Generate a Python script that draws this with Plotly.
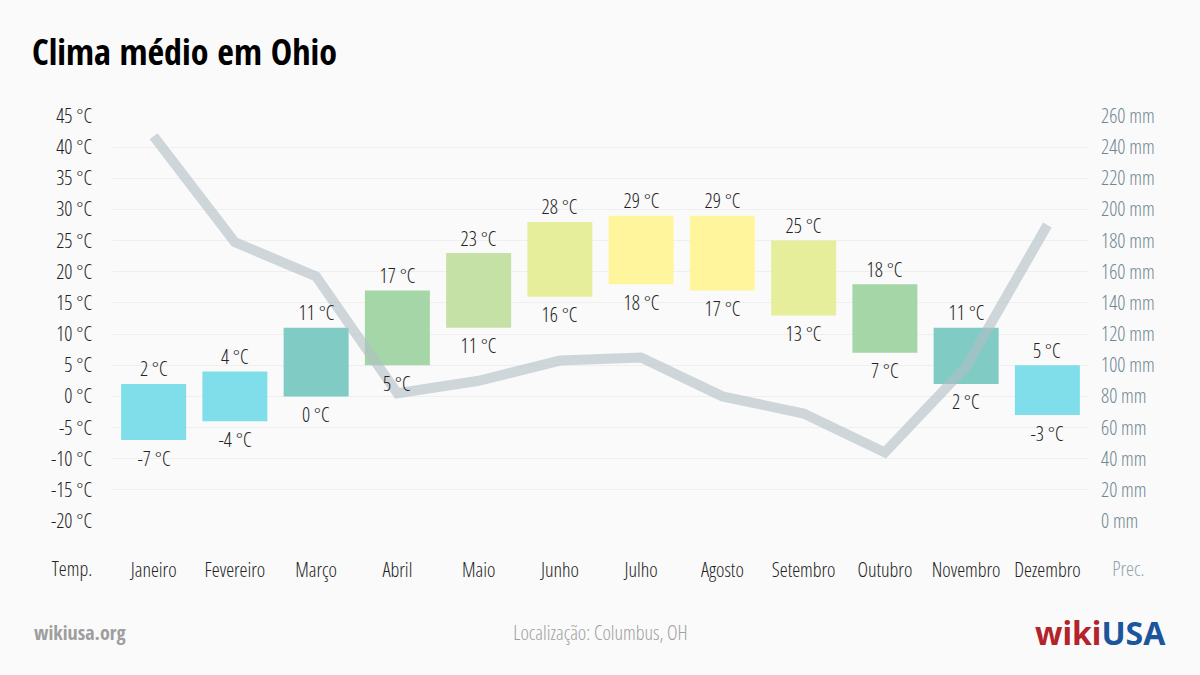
import plotly.graph_objects as go

months = ["Janeiro", "Fevereiro", "Março", "Abril", "Maio", "Junho", "Julho",
          "Agosto", "Setembro", "Outubro", "Novembro", "Dezembro"]
temp_high = [2, 4, 11, 17, 23, 28, 29, 29, 25, 18, 11, 5]
temp_low = [-7, -4, 0, 5, 11, 16, 18, 17, 13, 7, 2, -3]
precip = [247, 179, 157, 82, 90, 103, 105, 80, 69, 44, 99, 190]
bar_colors = ["#80deea", "#80deea", "#80cbc4", "#a5d6a7", "#c5e1a5", "#e6ee9c",
              "#fff59d", "#fff59d", "#e6ee9c", "#a5d6a7", "#80cbc4", "#80deea"]
temp_ticks = list(range(-20, 50, 5))
precip_ticks = list(range(0, 280, 20))

FONT = "Open Sans, sans-serif"
BOLD = "Open Sans Condensed, Open Sans, sans-serif"
LOGO = "Noto Sans, sans-serif"


def lf(color="#222222", size=20):
    return dict(family=FONT, size=size, color=color, weight=300)


fig = go.Figure()
fig.add_trace(go.Bar(
    x=months, y=[h - l for h, l in zip(temp_high, temp_low)], base=temp_low,
    marker=dict(color=bar_colors, line=dict(width=0)), width=0.8,
    hoverinfo="skip", showlegend=False))
fig.add_trace(go.Scatter(
    x=months, y=precip, yaxis="y2", mode="lines",
    line=dict(color="rgba(176,190,197,0.6)", width=10),
    showlegend=False, hoverinfo="skip"))

annotations = []
for m, h, l in zip(months, temp_high, temp_low):
    annotations.append(dict(x=m, y=h, xref="x", yref="y", text=f"{h} °C", showarrow=False,
                            yanchor="middle", yshift=15, font=lf()))
    annotations.append(dict(x=m, y=l, xref="x", yref="y", text=f"{l} °C", showarrow=False,
                            yanchor="middle", yshift=-18, font=lf()))

annotations += [
    dict(text="<b>Clima médio em Ohio</b>", xref="paper", yref="paper",
         x=(30 - 113) / 975, y=1 + (116 - 52) / 405, xanchor="left", yanchor="middle",
         showarrow=False, font=dict(family=BOLD, size=36, color="#000000")),
    dict(text="Temp.", xref="paper", yref="paper", x=-41/975, y=-(568 - 521) / 405,
         xanchor="center", yanchor="middle", showarrow=False, font=lf()),
    dict(text="Prec.", xref="paper", yref="paper", x=1 + 40/975, y=-(568 - 521) / 405,
         xanchor="center", yanchor="middle", showarrow=False, font=lf("#90a4ae")),
    dict(text="<b>wikiusa.org</b>", xref="paper", yref="paper", x=(32 - 113) / 975,
         y=-(632 - 521) / 405, xanchor="left", yanchor="middle", showarrow=False,
         font=dict(family=BOLD, size=20, color="#9e9e9e")),
    dict(text="Localização: Columbus, OH", xref="paper", yref="paper",
         x=(600 - 113) / 975, y=-(632 - 521) / 405, xanchor="center",
         yanchor="middle", showarrow=False, font=lf("#a0a0a0")),
    dict(text="<b><span style='color:#b3232b'>wiki</span><span style='color:#1b569c'>USA</span></b>",
         xref="paper", yref="paper", x=(1168 - 113) / 975, y=-(632 - 521) / 405,
         xanchor="right", yanchor="middle", showarrow=False,
         font=dict(family=LOGO, size=32)),
]

fig.update_layout(
    width=1200, height=675,
    margin=dict(l=113, r=112, t=116, b=154),
    paper_bgcolor="#fafafa", plot_bgcolor="#fafafa",
    font=lf(),
    bargap=0.2,
    xaxis=dict(showgrid=False, zeroline=False, showline=False, ticks="", tickangle=0,
               tickfont=lf(), ticklabelstandoff=35, fixedrange=True),
    yaxis=dict(range=[-20, 45], tickvals=temp_ticks,
               ticktext=[f"{v} °C" for v in temp_ticks],
               showgrid=True, gridcolor="#efefef", gridwidth=1, zeroline=False,
               showline=False, tickfont=lf(), ticklabelstandoff=20),
    yaxis2=dict(range=[0, 260], tickvals=precip_ticks,
                ticktext=[f"{v} mm" for v in precip_ticks],
                overlaying="y", side="right", showgrid=False, zeroline=False,
                showline=False, tickfont=lf("#6f8792"), ticklabelstandoff=12),
    annotations=annotations,
)

post = (
    "var s=document.createElement('style');"
    "s.innerHTML='html,body{margin:0;padding:0;overflow:hidden} "
    ".main-svg text{font-stretch:75% !important}';"
    "document.head.appendChild(s);"
    "var gd=document.getElementById('{plot_id}');"
    "setTimeout(function(){Plotly.newPlot(gd, gd.data, gd.layout, {displayModeBar:false});}, 50);"
)

fig.write_html("out.html", post_script=post, config={"displayModeBar": False})
